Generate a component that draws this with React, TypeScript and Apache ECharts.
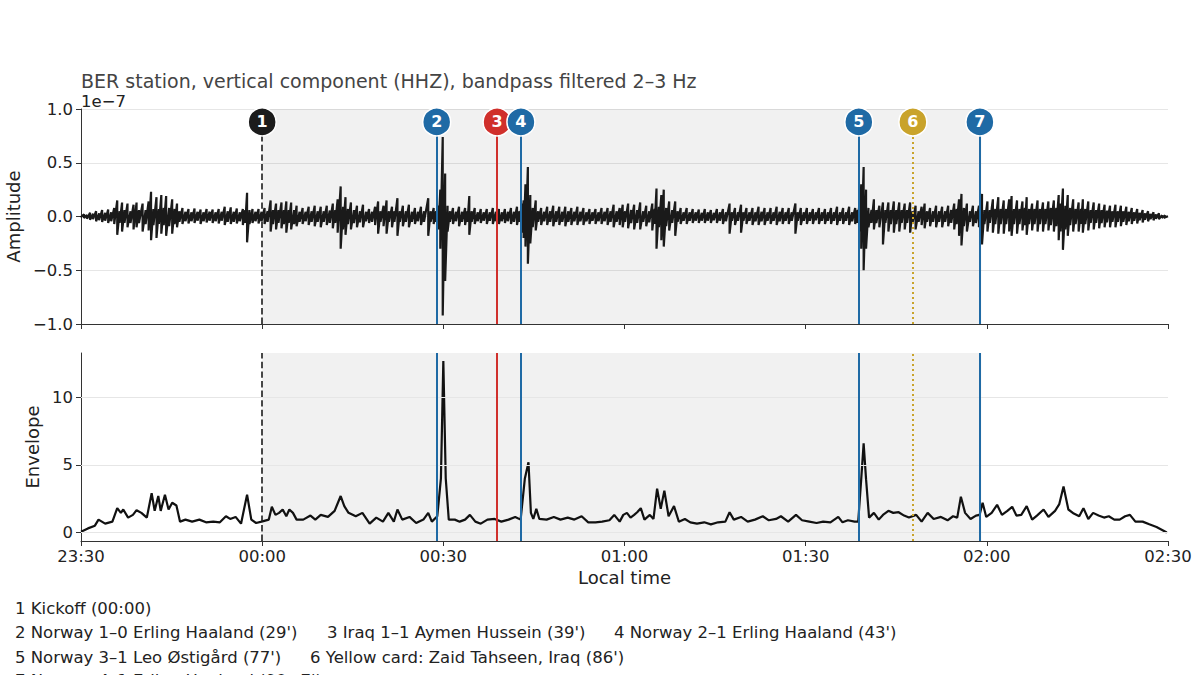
import React, { useEffect, useRef } from "react";
import * as echarts from "echarts";

// time axis in minutes after 23:30
const tickLabels = ["23:30", "00:00", "00:30", "01:00", "01:30", "02:00", "02:30"];

const eventIds = ["1", "2", "3", "4", "5", "6", "7"];
const eventTimes = [30, 58.9, 68.9, 72.85, 128.8, 137.75, 148.85];
const eventColors = ["#1c1c1c", "#1f6aa5", "#d0302c", "#1f6aa5", "#1f6aa5", "#c9a32b", "#1f6aa5"];
const eventLineTypes: any[] = ["dashed", "solid", "solid", "solid", "solid", [2, 3], "solid"];
const matchWindow = [30, 149.1];

const legendRows: { text: string; x: number; y: number }[] = [
  { text: "1 Kickoff (00:00)", x: 15, y: 608 },
  { text: "2 Norway 1\u20130 Erling Haaland (29')", x: 15, y: 632 },
  { text: "3 Iraq 1\u20131 Aymen Hussein (39')", x: 327, y: 632 },
  { text: "4 Norway 2\u20131 Erling Haaland (43')", x: 614, y: 632 },
  { text: "5 Norway 3\u20131 Leo \u00d8stig\u00e5rd (77')", x: 15, y: 657 },
  { text: "6 Yellow card: Zaid Tahseen, Iraq (86')", x: 310, y: 657 },
  { text: "7 Norway 4\u20131 Erling Haaland (90+7')", x: 15, y: 680 },
];

// [minute, upper extent, lower extent] of the filtered trace (x1e-7)
const amplitudeExtents: [number, number, number][] = [
  [0, 0.005, -0.005], [0.5, 0.02, -0.015], [1, 0.015, -0.02], [1.5, 0.035, -0.03], [2, 0.025, -0.025],
  [2.5, 0.05, -0.045], [3, 0.03, -0.035], [3.5, 0.06, -0.05], [4, 0.035, -0.04], [4.5, 0.065, -0.06],
  [5, 0.04, -0.045], [5.5, 0.08, -0.07], [6, 0.15, -0.17], [6.4, 0.05, -0.06], [6.8, 0.13, -0.14],
  [7.2, 0.06, -0.06], [7.7, 0.12, -0.1], [8.2, 0.05, -0.06], [8.7, 0.11, -0.12], [9.2, 0.13, -0.1],
  [9.6, 0.06, -0.06], [10.2, 0.12, -0.14], [10.7, 0.06, -0.07], [11.2, 0.14, -0.13], [11.6, 0.23, -0.22],
  [12, 0.07, -0.08], [12.5, 0.18, -0.2], [12.9, 0.07, -0.07], [13.3, 0.2, -0.16], [13.7, 0.08, -0.08],
  [14.1, 0.19, -0.18], [14.6, 0.08, -0.09], [15.1, 0.16, -0.16], [15.5, 0.07, -0.07], [15.9, 0.12, -0.1],
  [16.3, 0.05, -0.05], [16.8, 0.08, -0.07], [17.3, 0.045, -0.045], [17.8, 0.07, -0.065], [18.3, 0.04, -0.045],
  [18.8, 0.075, -0.06], [19.3, 0.045, -0.04], [19.8, 0.065, -0.07], [20.3, 0.04, -0.045], [20.8, 0.07, -0.055],
  [21.3, 0.045, -0.04], [21.8, 0.065, -0.06], [22.3, 0.04, -0.045], [22.8, 0.07, -0.065], [23.3, 0.045, -0.04],
  [23.8, 0.09, -0.08], [24.3, 0.05, -0.05], [24.8, 0.085, -0.07], [25.3, 0.045, -0.05], [25.8, 0.075, -0.065],
  [26.3, 0.04, -0.045], [26.8, 0.07, -0.08], [27.2, 0.06, -0.06], [27.5, 0.22, -0.24], [27.9, 0.06, -0.07],
  [28.4, 0.07, -0.06], [28.9, 0.045, -0.045], [29.4, 0.07, -0.065], [29.9, 0.045, -0.045], [30.4, 0.08, -0.07],
  [30.9, 0.05, -0.05], [31.4, 0.15, -0.14], [31.8, 0.06, -0.07], [32.3, 0.12, -0.12], [32.7, 0.06, -0.06],
  [33.2, 0.13, -0.11], [33.6, 0.06, -0.07], [34.0, 0.14, -0.15], [34.4, 0.06, -0.06], [34.8, 0.13, -0.12],
  [35.3, 0.06, -0.07], [35.7, 0.1, -0.09], [36.2, 0.045, -0.05], [36.7, 0.08, -0.07], [37.2, 0.045, -0.045],
  [37.7, 0.09, -0.08], [38.2, 0.05, -0.05], [38.7, 0.1, -0.09], [39.2, 0.05, -0.05], [39.7, 0.09, -0.1],
  [40.2, 0.05, -0.05], [40.7, 0.1, -0.08], [41.2, 0.055, -0.06], [41.7, 0.12, -0.11], [42.1, 0.06, -0.06],
  [42.5, 0.16, -0.15], [43, 0.28, -0.3], [43.4, 0.09, -0.12], [43.8, 0.18, -0.17], [44.2, 0.07, -0.07],
  [44.7, 0.13, -0.12], [45.2, 0.06, -0.06], [45.7, 0.1, -0.1], [46.2, 0.05, -0.055], [46.7, 0.11, -0.1],
  [47.2, 0.045, -0.045], [47.7, 0.07, -0.06], [48.2, 0.045, -0.05], [48.7, 0.09, -0.08], [49.2, 0.14, -0.16],
  [49.6, 0.05, -0.05], [50.1, 0.1, -0.09], [50.6, 0.15, -0.16], [51, 0.05, -0.05], [51.5, 0.09, -0.1],
  [51.9, 0.05, -0.05], [52.4, 0.17, -0.18], [52.8, 0.05, -0.05], [53.3, 0.1, -0.09], [53.8, 0.05, -0.05],
  [54.3, 0.11, -0.1], [54.8, 0.045, -0.05], [55.3, 0.08, -0.07], [55.8, 0.045, -0.045], [56.3, 0.09, -0.08],
  [56.8, 0.05, -0.05], [57.5, 0.17, -0.18], [57.9, 0.05, -0.05], [58.4, 0.08, -0.07], [58.8, 0.05, -0.05],
  [59.2, 0.1, -0.12], [59.5, 0.25, -0.3], [59.9, 0.74, -0.92], [60.3, 0.4, -0.6], [60.7, 0.1, -0.14],
  [61.1, 0.05, -0.05], [61.6, 0.08, -0.07], [62.1, 0.045, -0.045], [62.6, 0.09, -0.09], [63.1, 0.045, -0.05],
  [63.6, 0.08, -0.08], [64, 0.05, -0.05], [64.3, 0.19, -0.17], [64.7, 0.05, -0.05], [65.2, 0.08, -0.07],
  [65.7, 0.04, -0.045], [66.2, 0.07, -0.06], [66.7, 0.04, -0.04], [67.2, 0.07, -0.07], [67.7, 0.04, -0.04],
  [68.2, 0.08, -0.07], [68.7, 0.045, -0.045], [69.2, 0.07, -0.07], [69.7, 0.04, -0.045], [70.2, 0.07, -0.06],
  [70.7, 0.045, -0.045], [71.2, 0.08, -0.07], [71.7, 0.045, -0.05], [72.2, 0.09, -0.08], [72.6, 0.05, -0.05],
  [73.0, 0.12, -0.15], [73.3, 0.15, -0.2], [73.6, 0.3, -0.28], [74, 0.46, -0.44], [74.4, 0.2, -0.25],
  [74.8, 0.08, -0.1], [75.3, 0.15, -0.13], [75.7, 0.05, -0.05], [76.2, 0.08, -0.08], [76.7, 0.045, -0.045],
  [77.2, 0.09, -0.08], [77.7, 0.05, -0.05], [78.2, 0.1, -0.09], [78.7, 0.05, -0.05], [79.2, 0.09, -0.08],
  [79.7, 0.045, -0.05], [80.2, 0.09, -0.09], [80.7, 0.05, -0.05], [81.2, 0.08, -0.08], [81.7, 0.045, -0.045],
  [82.2, 0.09, -0.08], [82.7, 0.045, -0.045], [83.2, 0.08, -0.08], [83.7, 0.04, -0.045], [84.2, 0.07, -0.07],
  [84.7, 0.04, -0.04], [85.2, 0.07, -0.07], [85.7, 0.04, -0.045], [86.2, 0.08, -0.07], [86.7, 0.045, -0.045],
  [87.2, 0.08, -0.08], [87.7, 0.05, -0.05], [88.2, 0.11, -0.1], [88.7, 0.05, -0.05], [89.2, 0.08, -0.08],
  [89.7, 0.11, -0.1], [90.1, 0.05, -0.05], [90.6, 0.12, -0.11], [91.1, 0.06, -0.06], [91.6, 0.11, -0.12],
  [92.1, 0.06, -0.06], [92.6, 0.13, -0.12], [93.1, 0.05, -0.05], [93.6, 0.1, -0.09], [94.1, 0.05, -0.055],
  [94.6, 0.12, -0.13], [95, 0.07, -0.07], [95.3, 0.26, -0.3], [95.7, 0.09, -0.1], [96.1, 0.2, -0.22],
  [96.5, 0.25, -0.28], [96.9, 0.08, -0.09], [97.4, 0.14, -0.13], [97.9, 0.06, -0.06], [98.4, 0.14, -0.18],
  [98.8, 0.05, -0.05], [99.3, 0.08, -0.07], [99.8, 0.04, -0.04], [100.3, 0.08, -0.07], [100.8, 0.04, -0.04],
  [101.3, 0.07, -0.06], [101.8, 0.04, -0.04], [102.3, 0.065, -0.06], [102.8, 0.035, -0.04], [103.3, 0.07, -0.06],
  [103.8, 0.04, -0.04], [104.3, 0.06, -0.06], [104.8, 0.035, -0.035], [105.3, 0.07, -0.06], [105.8, 0.04, -0.04],
  [106.3, 0.07, -0.07], [106.8, 0.04, -0.045], [107.4, 0.12, -0.16], [107.8, 0.04, -0.04], [108.3, 0.08, -0.08],
  [108.8, 0.04, -0.04], [109.3, 0.11, -0.15], [109.7, 0.04, -0.04], [110.2, 0.08, -0.07], [110.7, 0.04, -0.04],
  [111.2, 0.08, -0.08], [111.7, 0.04, -0.045], [112.2, 0.09, -0.08], [112.7, 0.045, -0.045], [113.2, 0.08, -0.08],
  [113.7, 0.04, -0.04], [114.2, 0.08, -0.07], [114.7, 0.04, -0.04], [115.2, 0.09, -0.08], [115.7, 0.045, -0.045],
  [116.2, 0.08, -0.07], [116.7, 0.04, -0.04], [117.2, 0.08, -0.07], [117.7, 0.04, -0.04], [118.3, 0.12, -0.16],
  [118.7, 0.04, -0.04], [119.2, 0.08, -0.08], [119.7, 0.04, -0.04], [120.2, 0.08, -0.07], [120.7, 0.04, -0.04],
  [121.2, 0.07, -0.07], [121.7, 0.04, -0.035], [122.2, 0.08, -0.07], [122.7, 0.04, -0.04], [123.2, 0.07, -0.07],
  [123.7, 0.04, -0.04], [124.2, 0.08, -0.07], [124.7, 0.04, -0.04], [125.2, 0.09, -0.08], [125.7, 0.04, -0.04],
  [126.2, 0.08, -0.07], [126.7, 0.04, -0.04], [127.2, 0.09, -0.08], [127.7, 0.04, -0.045], [128.2, 0.08, -0.07],
  [128.6, 0.06, -0.06], [128.9, 0.12, -0.14], [129.2, 0.3, -0.3], [129.6, 0.46, -0.5], [130, 0.25, -0.3],
  [130.4, 0.08, -0.1], [130.9, 0.06, -0.06], [131.3, 0.16, -0.12], [131.7, 0.06, -0.06], [132.2, 0.1, -0.1],
  [132.8, 0.13, -0.26], [133.2, 0.06, -0.06], [133.7, 0.13, -0.14], [134.1, 0.06, -0.07], [134.6, 0.14, -0.15],
  [135, 0.06, -0.07], [135.5, 0.13, -0.14], [135.9, 0.06, -0.06], [136.4, 0.12, -0.12], [136.8, 0.06, -0.06],
  [137.3, 0.13, -0.15], [137.7, 0.05, -0.06], [138.2, 0.1, -0.12], [138.7, 0.05, -0.05], [139.2, 0.09, -0.08],
  [139.7, 0.12, -0.11], [140.1, 0.05, -0.05], [140.6, 0.08, -0.09], [141.1, 0.05, -0.05], [141.6, 0.1, -0.1],
  [142.1, 0.05, -0.05], [142.6, 0.09, -0.1], [143.1, 0.05, -0.05], [143.6, 0.1, -0.09], [144.1, 0.06, -0.06],
  [144.6, 0.12, -0.12], [145, 0.07, -0.07], [145.4, 0.16, -0.18], [145.8, 0.21, -0.27], [146.2, 0.08, -0.09],
  [146.7, 0.12, -0.14], [147.2, 0.05, -0.05], [147.7, 0.1, -0.09], [148.2, 0.05, -0.06], [148.7, 0.1, -0.1],
  [149.2, 0.21, -0.26], [149.6, 0.06, -0.07], [150.1, 0.14, -0.14], [150.5, 0.06, -0.06], [151, 0.16, -0.15],
  [151.4, 0.07, -0.07], [151.9, 0.18, -0.16], [152.3, 0.07, -0.07], [152.8, 0.15, -0.16], [153.2, 0.07, -0.07],
  [153.7, 0.16, -0.14], [154.1, 0.19, -0.18], [154.5, 0.07, -0.07], [155, 0.15, -0.16], [155.4, 0.07, -0.07],
  [155.9, 0.14, -0.13], [156.3, 0.08, -0.08], [156.6, 0.18, -0.17], [157, 0.07, -0.07], [157.5, 0.12, -0.13],
  [157.9, 0.07, -0.07], [158.4, 0.15, -0.14], [158.8, 0.07, -0.07], [159.3, 0.13, -0.14], [159.7, 0.07, -0.07],
  [160.2, 0.14, -0.13], [160.6, 0.08, -0.08], [161.1, 0.15, -0.14], [161.5, 0.08, -0.09], [161.9, 0.2, -0.22],
  [162.2, 0.12, -0.14], [162.6, 0.26, -0.31], [163, 0.1, -0.12], [163.4, 0.2, -0.18], [163.8, 0.08, -0.08],
  [164.3, 0.16, -0.14], [164.7, 0.07, -0.07], [165.2, 0.13, -0.14], [165.6, 0.07, -0.07], [165.9, 0.16, -0.15],
  [166.3, 0.07, -0.07], [166.8, 0.14, -0.13], [167.2, 0.06, -0.06], [167.7, 0.13, -0.12], [168.1, 0.06, -0.06],
  [168.6, 0.12, -0.11], [169, 0.06, -0.06], [169.5, 0.11, -0.1], [169.9, 0.055, -0.055], [170.4, 0.1, -0.1],
  [170.8, 0.05, -0.05], [171.3, 0.11, -0.1], [171.7, 0.05, -0.05], [172.2, 0.1, -0.09], [172.6, 0.05, -0.05],
  [173.1, 0.09, -0.08], [173.5, 0.045, -0.045], [174, 0.08, -0.07], [174.4, 0.04, -0.04], [174.9, 0.07, -0.065],
  [175.3, 0.035, -0.035], [175.8, 0.06, -0.055], [176.2, 0.03, -0.03], [176.7, 0.05, -0.045], [177.1, 0.025, -0.025],
  [177.6, 0.04, -0.035], [178, 0.02, -0.02], [178.5, 0.03, -0.025], [179, 0.012, -0.012], [179.5, 0.01, -0.008],
  [180, 0.002, -0.002],
];

// [minute, envelope]
const envelope: [number, number][] = [
  [0, 0.05], [1.15, 0.3], [2.3, 0.5], [2.9, 0.95], [4, 0.65], [5.2, 0.8], [6, 1.8], [6.6, 1.45], [7, 1.7],
  [7.8, 1.1], [8.6, 1.3], [9.2, 1.65], [10, 1.45], [10.9, 1.1], [11.7, 2.9], [12.2, 1.6], [12.8, 2.7],
  [13.2, 1.6], [13.9, 2.8], [14.5, 1.7], [15.1, 2.2], [15.8, 2.0], [16.4, 0.8], [17.3, 0.95], [18.4, 0.8],
  [19.6, 0.95], [20.7, 0.75], [21.9, 0.8], [23, 0.75], [24, 1.2], [24.7, 1.0], [25.6, 1.15], [26.5, 0.65],
  [27.5, 2.8], [28.2, 0.95], [29, 0.7], [29.9, 0.8], [31.1, 0.95], [31.6, 1.9], [32.2, 1.3], [32.8, 1.45],
  [33.4, 1.7], [34, 1.2], [34.5, 1.7], [35.1, 1.45], [35.7, 0.95], [36.8, 0.95], [38, 1.25], [38.8, 0.95],
  [39.7, 1.3], [40.9, 1.15], [42, 1.6], [43, 2.7], [43.6, 1.95], [44.3, 1.45], [45.5, 1.2], [46.6, 1.45],
  [47.8, 0.65], [48.9, 1.1], [50, 0.8], [50.9, 1.45], [51.8, 0.8], [52.4, 1.7], [53.2, 0.95], [54.4, 1.15],
  [55.5, 0.7], [56.7, 0.95], [57.5, 1.45], [58.1, 0.8], [59, 1.2], [59.6, 4], [60, 12.7], [60.4, 4],
  [60.9, 0.95], [61.9, 0.95], [62.7, 0.8], [63.6, 0.95], [64.4, 1.3], [65.3, 0.8], [66.2, 0.65], [67.3, 0.95],
  [68.5, 1.0], [69.6, 0.8], [70.8, 0.95], [71.9, 1.15], [72.8, 0.95], [73.5, 4.0], [74.1, 5.2], [74.5, 1.45],
  [74.9, 1.0], [75.4, 1.75], [75.9, 1.0], [77.1, 0.95], [78.3, 1.15], [79.4, 0.95], [80.6, 1.1], [81.7, 0.95],
  [82.9, 1.2], [84, 0.75], [85.2, 0.75], [86.3, 0.8], [87.5, 0.9], [88.3, 1.3], [89.2, 0.8], [89.8, 1.3],
  [90.4, 1.45], [91, 1.1], [91.6, 1.3], [92.1, 1.5], [92.7, 1.8], [93.3, 0.95], [94.2, 1.3], [94.8, 1.0],
  [95.4, 3.25], [96, 1.75], [96.6, 3.1], [97.3, 1.2], [98.2, 1.95], [99, 0.8], [100, 1.0], [100.9, 0.75],
  [102, 0.65], [103.2, 0.75], [104.3, 0.6], [105.5, 0.75], [106.7, 0.8], [107.4, 1.5], [108.1, 0.95],
  [109.3, 1.15], [110.4, 0.8], [111.6, 0.95], [112.9, 1.2], [113.9, 0.9], [115.1, 1.0], [115.9, 1.2],
  [117.1, 0.8], [118.4, 1.3], [119.4, 0.9], [120.6, 0.8], [121.8, 0.7], [122.9, 0.8], [124.1, 0.75],
  [125.4, 1.15], [126.1, 0.75], [127, 0.9], [128.1, 0.8], [128.7, 0.8], [129.2, 3.95], [129.6, 6.6],
  [130, 3.95], [130.5, 1.1], [131.3, 1.45], [132.1, 0.95], [132.8, 1.3], [133.7, 1.6], [134.5, 1.45],
  [135.4, 1.5], [136.3, 1.25], [137.1, 1.1], [138.3, 1.3], [139.2, 0.8], [140.2, 1.45], [141.2, 1.0],
  [142.4, 1.15], [143.5, 0.9], [144.4, 1.2], [145.1, 1.1], [145.7, 2.65], [146.4, 1.45], [147.3, 1.0],
  [148.2, 1.25], [148.8, 1.3], [149.3, 2.2], [149.9, 1.15], [150.8, 1.45], [151.7, 2.05], [152.5, 1.3],
  [153.4, 1.6], [154.2, 1.9], [154.9, 1.25], [155.7, 1.3], [156.6, 1.95], [157.5, 0.95], [158.3, 1.25],
  [159.4, 1.7], [160.2, 1.15], [161.3, 1.6], [162, 2.1], [162.7, 3.4], [163.5, 1.7], [164.4, 1.4],
  [165.3, 1.2], [166, 1.8], [166.8, 1.0], [167.6, 1.45], [168.5, 1.25], [169.4, 1.1], [170.2, 1.2],
  [171.1, 0.95], [172, 0.95], [172.9, 1.2], [173.7, 1.3], [174.6, 0.8], [175.8, 0.8], [176.9, 0.6],
  [178.1, 0.4], [179.8, 0.0],
];

const FONT = "'DejaVu Sans', sans-serif";
const INK = "#222222";
const GRIDC = "#e6e6e6";
const TICK_FS = 16.5;

export default function App() {
  const ref = useRef<HTMLDivElement>(null);
  useEffect(() => {
    if (!ref.current) return;
    const chart = echarts.init(ref.current, undefined, { renderer: "svg" });

    const xCommon = (gi: number, labels: boolean) => ({
      type: "value",
      gridIndex: gi,
      min: 0,
      max: 180,
      interval: 30,
      axisLine: { show: true, onZero: false, lineStyle: { color: "#333", width: 1 } },
      axisTick: { show: true, length: 5, lineStyle: { color: "#333" } },
      axisLabel: {
        show: labels,
        fontSize: TICK_FS,
        fontFamily: FONT,
        color: INK,
        margin: 7,
        formatter: (v: number) => tickLabels[Math.round(v / 30)] ?? "",
      },
      splitLine: { show: false },
    });

    const dummy = (xi: number) => ({
      type: "line",
      xAxisIndex: xi,
      yAxisIndex: xi,
      data: [[0, 0]],
      symbol: "none",
      lineStyle: { opacity: 0 },
      silent: true,
    });

    const eventLineData = eventTimes.map((t, i) => ({
      xAxis: t,
      lineStyle: {
        color: eventColors[i],
        type: eventLineTypes[i],
        width: i === 0 ? 1.6 : 2,
      },
    }));

    // trace drawn as a high/low zig-zag through each sample's extents
    const trace = amplitudeExtents.flatMap((d) => [
      [d[0], d[1]],
      [d[0], d[2]],
    ]);

    const option: any = {
      animation: false,
      backgroundColor: "#ffffff",
      grid: [
        { left: 81, right: 32, top: 109, height: 215, containLabel: false, outerBoundsMode: "none" },
        { left: 81, right: 32, top: 353, height: 188, containLabel: false, outerBoundsMode: "none" },
      ],
      xAxis: [
        xCommon(0, false),
        {
          ...xCommon(1, true),
          name: "Local time",
          nameLocation: "middle",
          nameGap: 27,
          nameTextStyle: { fontSize: 18, fontFamily: FONT, color: INK },
        },
      ],
      yAxis: [
        {
          type: "value",
          gridIndex: 0,
          min: -1,
          max: 1,
          interval: 0.5,
          axisLine: { show: true, lineStyle: { color: "#333" } },
          axisTick: { show: true, length: 5, lineStyle: { color: "#333" } },
          axisLabel: {
            fontSize: TICK_FS,
            fontFamily: FONT,
            color: INK,
            margin: 8,
            formatter: (v: number) => v.toFixed(1).replace("-", "\u2212"),
          },
          splitLine: { show: true, lineStyle: { color: GRIDC, width: 1 } },
          name: "Amplitude",
          nameLocation: "middle",
          nameGap: 54,
          nameTextStyle: { fontSize: 18, fontFamily: FONT, color: INK },
        },
        {
          type: "value",
          gridIndex: 1,
          min: -0.635,
          max: 13.3,
          axisLine: { show: true, lineStyle: { color: "#333" } },
          axisTick: { show: true, length: 5, lineStyle: { color: "#333" }, customValues: [0, 5, 10] },
          axisLabel: {
            fontSize: TICK_FS,
            fontFamily: FONT,
            color: INK,
            margin: 8,
            customValues: [0, 5, 10],
          },
          splitLine: { show: false },
          name: "Envelope",
          nameLocation: "middle",
          nameGap: 31,
          nameTextStyle: { fontSize: 18, fontFamily: FONT, color: INK },
        },
      ],
      graphic: [
        {
          type: "text",
          x: 81,
          y: 81,
          style: {
            text: "BER station, vertical component (HHZ), bandpass filtered 2\u20133 Hz",
            font: `19px ${FONT}`,
            fill: "#444444",
            verticalAlign: "middle",
            align: "left",
          },
        },
        {
          type: "text",
          x: 81,
          y: 101,
          style: { text: "1e\u22127", font: `16.5px ${FONT}`, fill: INK, verticalAlign: "middle", align: "left" },
        },
        ...legendRows.map((r) => ({
          type: "text",
          x: r.x,
          y: r.y,
          style: { text: r.text, font: `16.5px ${FONT}`, fill: INK, verticalAlign: "middle", align: "left" },
        })),
      ],
      series: [
        {
          ...dummy(0),
          z: 0,
          markArea: {
            silent: true,
            itemStyle: { color: "rgba(0,0,0,0.055)" },
            data: [[{ xAxis: matchWindow[0] }, { xAxis: matchWindow[1] }]],
          },
        },
        {
          ...dummy(1),
          z: 0,
          markArea: {
            silent: true,
            itemStyle: { color: "rgba(0,0,0,0.055)" },
            data: [[{ xAxis: matchWindow[0] }, { xAxis: matchWindow[1] }]],
          },
          markLine: {
            silent: true,
            symbol: ["none", "none"],
            label: { show: false },
            lineStyle: { color: GRIDC, type: "solid", width: 1 },
            data: [{ yAxis: 0 }, { yAxis: 5 }, { yAxis: 10 }],
          },
        },
        {
          type: "line",
          xAxisIndex: 0,
          yAxisIndex: 0,
          data: trace,
          symbol: "none",
          lineStyle: { color: "#1a1a1a", width: 2.2, join: "miter", miterLimit: 2 },
          z: 2,
          silent: true,
        },
        {
          type: "line",
          xAxisIndex: 1,
          yAxisIndex: 1,
          data: envelope,
          symbol: "none",
          lineStyle: { color: "#111111", width: 2.2 },
          z: 3,
          silent: true,
        },
        {
          ...dummy(0),
          z: 4,
          markLine: {
            silent: true,
            symbol: ["none", "none"],
            label: { show: false },
            data: eventLineData,
          },
        },
        {
          ...dummy(1),
          z: 4,
          markLine: {
            silent: true,
            symbol: ["none", "none"],
            label: { show: false },
            data: eventLineData,
          },
        },
        {
          type: "scatter",
          xAxisIndex: 0,
          yAxisIndex: 0,
          symbol: "circle",
          symbolSize: 28,
          z: 10,
          silent: true,
          data: eventTimes.map((t, i) => ({
            name: eventIds[i],
            value: [t, 0.88],
            itemStyle: { color: eventColors[i], borderColor: "#ffffff", borderWidth: 1.5, opacity: 1 },
          })),
          itemStyle: { opacity: 1 },
          label: {
            show: true,
            position: "inside",
            formatter: (p: any) => p.name,
            fontSize: 16,
            fontWeight: "bold",
            fontFamily: FONT,
            color: "#ffffff",
          },
        },
      ],
    };

    chart.setOption(option);
    return () => chart.dispose();
  }, []);

  return (
    <div
      ref={ref}
      style={{ position: "fixed", left: 0, top: 0, width: 1200, height: 675, background: "#fff" }}
    />
  );
}
